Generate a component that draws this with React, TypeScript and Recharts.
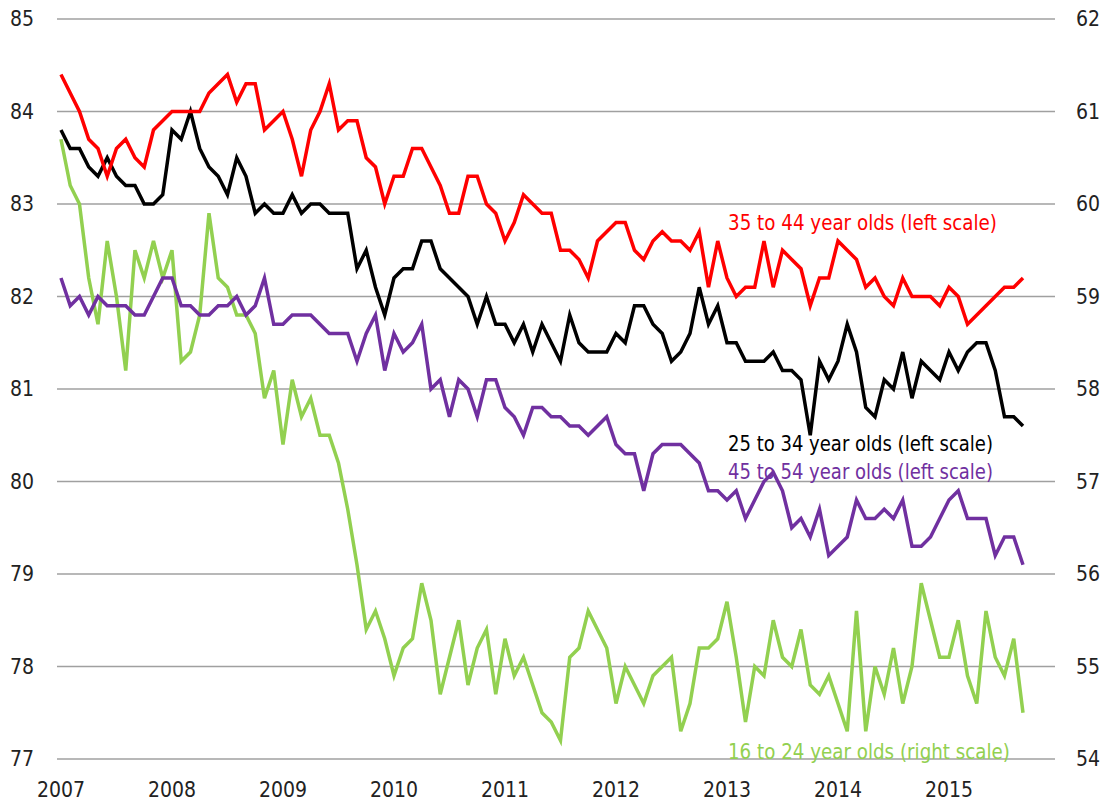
import React from "react";
import {
  LineChart,
  Line,
  XAxis,
  YAxis,
  CartesianGrid,
} from "recharts";

// monthly, Jan 2007 .. Sep 2015
const age25to34 = [
  83.8, 83.6, 83.6, 83.4, 83.3, 83.5, 83.3, 83.2, 83.2, 83.0,
  83.0, 83.1, 83.8, 83.7, 84.0, 83.6, 83.4, 83.3, 83.1, 83.5,
  83.3, 82.9, 83.0, 82.9, 82.9, 83.1, 82.9, 83.0, 83.0, 82.9,
  82.9, 82.9, 82.3, 82.5, 82.1, 81.8, 82.2, 82.3, 82.3, 82.6,
  82.6, 82.3, 82.2, 82.1, 82.0, 81.7, 82.0, 81.7, 81.7, 81.5,
  81.7, 81.4, 81.7, 81.5, 81.3, 81.8, 81.5, 81.4, 81.4, 81.4,
  81.6, 81.5, 81.9, 81.9, 81.7, 81.6, 81.3, 81.4, 81.6, 82.1,
  81.7, 81.9, 81.5, 81.5, 81.3, 81.3, 81.3, 81.4, 81.2, 81.2,
  81.1, 80.5, 81.3, 81.1, 81.3, 81.7, 81.4, 80.8, 80.7, 81.1,
  81.0, 81.4, 80.9, 81.3, 81.2, 81.1, 81.4, 81.2, 81.4, 81.5,
  81.5, 81.2, 80.7, 80.7, 80.6,
];

const age35to44 = [
  84.4, 84.2, 84.0, 83.7, 83.6, 83.3, 83.6, 83.7, 83.5, 83.4,
  83.8, 83.9, 84.0, 84.0, 84.0, 84.0, 84.2, 84.3, 84.4, 84.1,
  84.3, 84.3, 83.8, 83.9, 84.0, 83.7, 83.3, 83.8, 84.0, 84.3,
  83.8, 83.9, 83.9, 83.5, 83.4, 83.0, 83.3, 83.3, 83.6, 83.6,
  83.4, 83.2, 82.9, 82.9, 83.3, 83.3, 83.0, 82.9, 82.6, 82.8,
  83.1, 83.0, 82.9, 82.9, 82.5, 82.5, 82.4, 82.2, 82.6, 82.7,
  82.8, 82.8, 82.5, 82.4, 82.6, 82.7, 82.6, 82.6, 82.5, 82.7,
  82.1, 82.6, 82.2, 82.0, 82.1, 82.1, 82.6, 82.1, 82.5, 82.4,
  82.3, 81.9, 82.2, 82.2, 82.6, 82.5, 82.4, 82.1, 82.2, 82.0,
  81.9, 82.2, 82.0, 82.0, 82.0, 81.9, 82.1, 82.0, 81.7, 81.8,
  81.9, 82.0, 82.1, 82.1, 82.2,
];

const age45to54 = [
  82.2, 81.9, 82.0, 81.8, 82.0, 81.9, 81.9, 81.9, 81.8, 81.8,
  82.0, 82.2, 82.2, 81.9, 81.9, 81.8, 81.8, 81.9, 81.9, 82.0,
  81.8, 81.9, 82.2, 81.7, 81.7, 81.8, 81.8, 81.8, 81.7, 81.6,
  81.6, 81.6, 81.3, 81.6, 81.8, 81.2, 81.6, 81.4, 81.5, 81.7,
  81.0, 81.1, 80.7, 81.1, 81.0, 80.7, 81.1, 81.1, 80.8, 80.7,
  80.5, 80.8, 80.8, 80.7, 80.7, 80.6, 80.6, 80.5, 80.6, 80.7,
  80.4, 80.3, 80.3, 79.9, 80.3, 80.4, 80.4, 80.4, 80.3, 80.2,
  79.9, 79.9, 79.8, 79.9, 79.6, 79.8, 80.0, 80.1, 79.9, 79.5,
  79.6, 79.4, 79.7, 79.2, 79.3, 79.4, 79.8, 79.6, 79.6, 79.7,
  79.6, 79.8, 79.3, 79.3, 79.4, 79.6, 79.8, 79.9, 79.6, 79.6,
  79.6, 79.2, 79.4, 79.4, 79.1,
];

// right scale
const age16to24 = [
  60.7, 60.2, 60.0, 59.2, 58.7, 59.6, 59.0, 58.2, 59.5, 59.2,
  59.6, 59.2, 59.5, 58.3, 58.4, 58.8, 59.9, 59.2, 59.1, 58.8,
  58.8, 58.6, 57.9, 58.2, 57.4, 58.1, 57.7, 57.9, 57.5, 57.5,
  57.2, 56.7, 56.1, 55.4, 55.6, 55.3, 54.9, 55.2, 55.3, 55.9,
  55.5, 54.7, 55.1, 55.5, 54.8, 55.2, 55.4, 54.7, 55.3, 54.9,
  55.1, 54.8, 54.5, 54.4, 54.2, 55.1, 55.2, 55.6, 55.4, 55.2,
  54.6, 55.0, 54.8, 54.6, 54.9, 55.0, 55.1, 54.3, 54.6, 55.2,
  55.2, 55.3, 55.7, 55.1, 54.4, 55.0, 54.9, 55.5, 55.1, 55.0,
  55.4, 54.8, 54.7, 54.9, 54.6, 54.3, 55.6, 54.3, 55.0, 54.7,
  55.2, 54.6, 55.0, 55.9, 55.5, 55.1, 55.1, 55.5, 54.9, 54.6,
  55.6, 55.1, 54.9, 55.3, 54.5,
];

const yearTicks = [0, 12, 24, 36, 48, 60, 72, 84, 96];
const leftTicks = [77, 78, 79, 80, 81, 82, 83, 84, 85];
const rightTicks = [54, 55, 56, 57, 58, 59, 60, 61, 62];

const FONT = '"Liberation Sans Narrow", "Arial Narrow", "DejaVu Sans Condensed", sans-serif';

const data = age25to34.map((v, i) => ({
  i,
  a25: v,
  a35: age35to44[i],
  a45: age45to54[i],
  a16: age16to24[i],
}));

const tickStyle = { fill: "#222", fontSize: 21, fontFamily: FONT };

const notes = [
  { text: "35 to 44 year olds (left scale)", color: "#FF0000", y: 222, w: 269 },
  { text: "25 to 34 year olds (left scale)", color: "#000000", y: 443, w: 265 },
  { text: "45 to 54 year olds (left scale)", color: "#7030A0", y: 471, w: 265 },
  { text: "16 to 24 year olds (right scale)", color: "#92D050", y: 751, w: 282 },
];

export default function App() {
  return (
    <div style={{ position: "relative", width: 1103, height: 802 }}>
      <style>{"body { margin: 0; }"}</style>
      <LineChart
        width={1103}
        height={802}
        data={data}
        margin={{ top: 19, right: 0, bottom: 4, left: 0 }}
      >
        <CartesianGrid
          yAxisId="left"
          vertical={false}
          stroke="#a0a0a0"
          strokeWidth={1.3}
        />
        <XAxis
          dataKey="i"
          type="number"
          domain={[-0.43, 107.46]}
          allowDataOverflow
          ticks={yearTicks}
          interval={0}
          tickFormatter={(v: number) => String(2007 + v / 12)}
          axisLine={false}
          tickLine={false}
          tickSize={0}
          tickMargin={23}
          height={39}
          tick={tickStyle}
        />
        <YAxis
          yAxisId="left"
          domain={[77, 85]}
          ticks={leftTicks}
          interval={0}
          axisLine={false}
          tickLine={false}
          tickSize={0}
          tickMargin={23}
          width={57}
          tick={tickStyle}
        />
        <YAxis
          yAxisId="right"
          orientation="right"
          domain={[54, 62]}
          ticks={rightTicks}
          interval={0}
          axisLine={false}
          tickLine={false}
          tickSize={0}
          tickMargin={21}
          width={48}
          tick={{ ...tickStyle, textAnchor: "start" }}
        />
        <Line yAxisId="right" dataKey="a16" stroke="#92D050" strokeWidth={3.5} dot={false} isAnimationActive={false} />
        <Line yAxisId="left" dataKey="a45" stroke="#7030A0" strokeWidth={3.5} dot={false} isAnimationActive={false} />
        <Line yAxisId="left" dataKey="a25" stroke="#000000" strokeWidth={3.5} dot={false} isAnimationActive={false} />
        <Line yAxisId="left" dataKey="a35" stroke="#FF0000" strokeWidth={3.5} dot={false} isAnimationActive={false} />
      </LineChart>
      <svg
        width={1103}
        height={802}
        style={{ position: "absolute", left: 0, top: 0, pointerEvents: "none" }}
      >
        {notes.map((n) => (
          <text
            key={n.text}
            x={728}
            y={n.y}
            fill={n.color}
            fontSize={22}
            fontFamily={FONT}
            dominantBaseline="central"
            textLength={n.w}
            lengthAdjust="spacingAndGlyphs"
          >
            {n.text}
          </text>
        ))}
      </svg>
    </div>
  );
}
